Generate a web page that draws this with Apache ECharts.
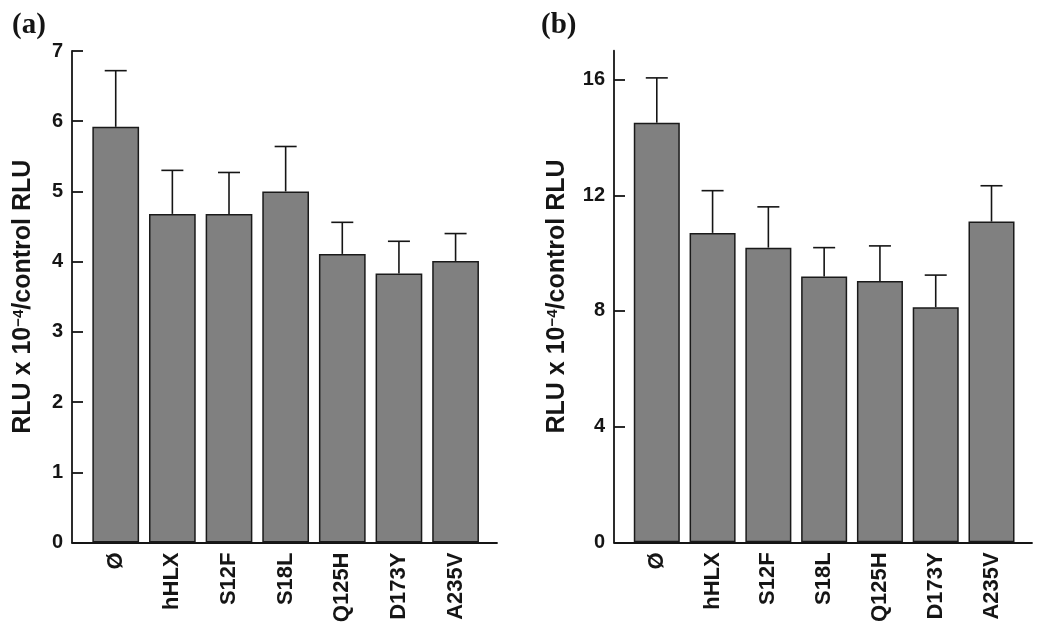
<!DOCTYPE html>
<html><head><meta charset="utf-8">
<script src="https://cdn.jsdelivr.net/npm/echarts@6.0.0/dist/echarts.min.js"></script>
<style>html,body{margin:0;padding:0;background:#fff}#c{width:1050px;height:638px}</style>
</head><body><div id="c"></div>
<script>
const categories = ['Ø', 'hHLX', 'S12F', 'S18L', 'Q125H', 'D173Y', 'A235V'];
const meanA = [5.92, 4.68, 4.68, 5.00, 4.11, 3.83, 4.01];
const errTopA = [6.72, 5.30, 5.27, 5.64, 4.56, 4.29, 4.40];
const meanB = [14.51, 10.70, 10.19, 9.19, 9.04, 8.13, 11.09];
const errTopB = [16.06, 12.16, 11.60, 10.19, 10.25, 9.24, 12.33];
const ticksA = [0, 1, 2, 3, 4, 5, 6, 7];
const ticksB = [0, 4, 8, 12, 16];
const panelTitles = ['(a)', '(b)'];

const font = '"Liberation Sans", Arial, sans-serif';
const ink = '#151515';
const axisLineStyle = { color: ink, width: 1.8 };

function errRender(params, api) {
  const x = api.value(0);
  const lo = api.coord([x, api.value(1)]);
  const hi = api.coord([x, api.value(2)]);
  const hw = 11;
  const st = { stroke: ink, lineWidth: 1.6 };
  return { type: 'group', children: [
    { type: 'line', shape: { x1: lo[0], y1: lo[1], x2: hi[0], y2: hi[1] }, style: st },
    { type: 'line', shape: { x1: hi[0] - hw, y1: hi[1], x2: hi[0] + hw, y2: hi[1] }, style: st }
  ]};
}

const yName = '{m|RLU x 10}{s|\u22124}{m|/control RLU}';
const yNameStyle = { rich: {
  m: { fontSize: 25, fontWeight: 'bold', fontFamily: font, color: ink },
  s: { fontSize: 15, fontWeight: 'bold', fontFamily: font, color: ink, verticalAlign: 'top' }
}};

function axisX(grid) {
  return { gridIndex: grid, type: 'value', min: 0, max: 1,
    axisLine: { show: true, onZero: false, lineStyle: axisLineStyle },
    axisTick: { show: false }, axisLabel: { show: false }, splitLine: { show: false } };
}
function catX(grid) {
  return { gridIndex: grid, type: 'category', data: categories,
    axisLine: { show: false }, axisTick: { show: false },
    axisLabel: { interval: 0, rotate: 90, margin: 10, fontSize: 22, fontWeight: 'bold', fontFamily: font, color: ink } };
}
function axisY(grid, max, ticks, gap) {
  return { gridIndex: grid, type: 'value', min: 0, max: max,
    axisLine: { show: true, lineStyle: axisLineStyle },
    axisTick: { show: true, inside: true, length: 11, lineStyle: axisLineStyle, customValues: ticks },
    axisLabel: { fontSize: 20, fontWeight: 'bold', fontFamily: font, color: ink, margin: 9, customValues: ticks },
    splitLine: { show: false },
    name: yName, nameLocation: 'middle', nameGap: gap, nameTextStyle: yNameStyle };
}
function hiddenY(grid, max) {
  return { gridIndex: grid, type: 'value', min: 0, max: max, show: false, splitLine: { show: false } };
}
function barSeries(xi, data) {
  return { type: 'bar', xAxisIndex: xi, yAxisIndex: xi, data: data, barCategoryGap: '17.5%',
    itemStyle: { color: '#808080', borderColor: '#1a1a1a', borderWidth: 1.5 }, z: 2 };
}
function errSeries(xi, mean, top) {
  return { type: 'custom', xAxisIndex: xi, yAxisIndex: xi, renderItem: errRender, z: 3,
    encode: { x: 0, y: [1, 2] },
    data: categories.map((c, i) => [i, mean[i], top[i]]) };
}

const chart = echarts.init(document.getElementById('c'));
chart.setOption({
  animation: false,
  backgroundColor: '#fff',
  title: [
    { text: panelTitles[0], left: 12, top: 11, padding: 0, textStyle: { fontFamily: '"Liberation Serif", serif', fontWeight: 'bold', fontSize: 29, color: ink } },
    { text: panelTitles[1], left: 541, top: 11, padding: 0, textStyle: { fontFamily: '"Liberation Serif", serif', fontWeight: 'bold', fontSize: 29, color: ink } }
  ],
  grid: [
    { left: 72, right: 553, top: 51, bottom: 95.5 },
    { left: 87.4, right: 566.1, top: 51, bottom: 95.5 },
    { left: 614, right: 18, top: 50.7, bottom: 95.7 },
    { left: 628.9, right: 30.6, top: 50.7, bottom: 95.7 }
  ],
  xAxis: [axisX(0), catX(1), axisX(2), catX(3)],
  yAxis: [axisY(0, 7, ticksA, 36), hiddenY(1, 7), axisY(2, 17, ticksB, 44), hiddenY(3, 17)],
  series: [
    barSeries(1, meanA), errSeries(1, meanA, errTopA),
    barSeries(3, meanB), errSeries(3, meanB, errTopB)
  ]
});
</script>
</body></html>
